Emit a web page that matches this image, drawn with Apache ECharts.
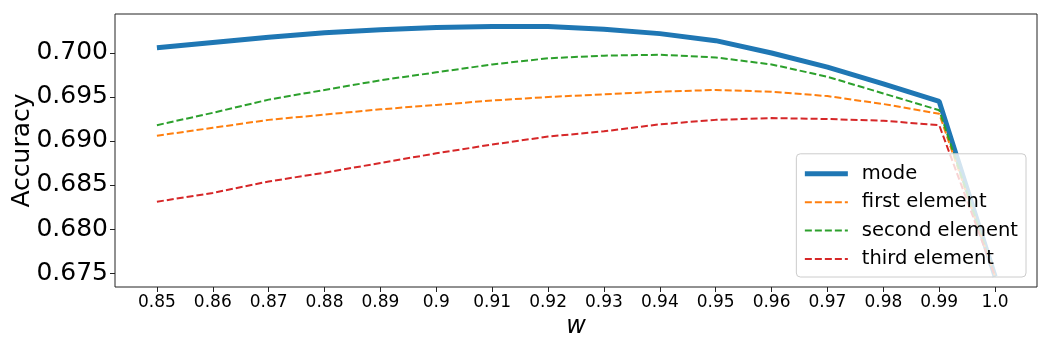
<!DOCTYPE html>
<html>
<head>
<meta charset="utf-8">
<script src="https://cdn.jsdelivr.net/npm/echarts@6/dist/echarts.min.js"></script>
<style>
  html, body { margin: 0; padding: 0; background: #fff; }
  #chart { width: 1050px; height: 350px; }
</style>
</head>
<body>
<div id="chart"></div>
<script>
// w values (tick labels as printed)
var xLabels = ['0.85', '0.86', '0.87', '0.88', '0.89', '0.9', '0.91', '0.92',
  '0.93', '0.94', '0.95', '0.96', '0.97', '0.98', '0.99', '1.0'];
var yTicks = [0.675, 0.680, 0.685, 0.690, 0.695, 0.700];

// accuracy per series
var mode = [0.7006, 0.7012, 0.7018, 0.7023, 0.70265, 0.7029, 0.7030, 0.7030,
  0.7027, 0.7022, 0.7014, 0.7000, 0.6984, 0.6965, 0.6945, 0.6746];
var firstEl = [0.6906, 0.6915, 0.6924, 0.6930, 0.6936, 0.6941, 0.6946, 0.6950,
  0.6953, 0.6956, 0.6958, 0.6956, 0.6951, 0.6942, 0.6931, 0.6746];
var secondEl = [0.6918, 0.6932, 0.6947, 0.6958, 0.6969, 0.6978, 0.6987, 0.6994,
  0.6997, 0.6998, 0.6995, 0.6987, 0.6973, 0.6954, 0.6935, 0.6746];
var thirdEl = [0.6831, 0.6841, 0.6854, 0.6864, 0.6875, 0.6886, 0.6896, 0.6905,
  0.6911, 0.6919, 0.6924, 0.6926, 0.6925, 0.6923, 0.6918, 0.6746];

var xVals = xLabels.map(function (s) { return parseFloat(s); });

function pairs(arr) {
  return arr.map(function (v, i) { return [xVals[i], v]; });
}

var myChart = echarts.init(document.getElementById('chart'));

myChart.setOption({
  animation: false,
  textStyle: { fontFamily: 'DejaVu Sans' },
  grid: {
    left: 115, right: 13, top: 14, bottom: 63,
    outerBoundsMode: 'none',
    containLabel: false,
    show: true, borderColor: '#222', borderWidth: 1, backgroundColor: '#fff'
  },
  xAxis: {
    type: 'value',
    min: 0.8425,
    max: 1.0075,
    name: 'w',
    nameLocation: 'middle',
    nameGap: 28,
    nameMoveOverlap: false,
    nameTextStyle: { fontSize: 24, fontStyle: 'italic', color: '#000' },
    axisLine: { show: false },
    splitLine: { show: false },
    axisTick: { show: true, customValues: xVals, length: 5, lineStyle: { color: '#222' } },
    axisLabel: {
      customValues: xVals,
      margin: 7,
      fontSize: 17,
      fontFamily: 'DejaVu Sans',
      color: '#000',
      formatter: function (v) {
        for (var i = 0; i < xVals.length; i++) {
          if (Math.abs(xVals[i] - v) < 1e-6) return xLabels[i];
        }
        return '';
      }
    }
  },
  yAxis: {
    type: 'value',
    min: 0.67341,
    max: 0.70443,
    name: 'Accuracy',
    nameLocation: 'middle',
    nameGap: 80,
    nameMoveOverlap: false,
    nameTextStyle: { fontSize: 25, color: '#000' },
    axisLine: { show: false },
    splitLine: { show: false },
    axisTick: { show: true, customValues: yTicks, length: 5, lineStyle: { color: '#222' } },
    axisLabel: {
      customValues: yTicks,
      margin: 7,
      fontSize: 25,
      color: '#000',
      formatter: function (v) { return v.toFixed(3); }
    }
  },
  legend: {
    orient: 'vertical',
    right: 24,
    bottom: 73,
    z: 10,
    padding: [10, 8, 8, 6],
    itemWidth: 43,
    itemHeight: 14,
    itemGap: 8.4,
    itemStyle: { opacity: 0 },
    backgroundColor: 'rgba(255,255,255,0.8)',
    borderColor: '#ccc',
    borderWidth: 1,
    borderRadius: 4,
    textStyle: { fontSize: 19.5, lineHeight: 19, color: '#000', padding: [0, 0, 0, 9] },
    data: [
      { name: 'mode', lineStyle: { width: 5 } },
      { name: 'first element' },
      { name: 'second element' },
      { name: 'third element' }
    ]
  },
  series: [
    {
      name: 'mode', type: 'line', symbol: 'none', data: pairs(mode),
      lineStyle: { color: '#1f77b4', width: 5 }, itemStyle: { color: '#1f77b4' }, z: 3
    },
    {
      name: 'first element', type: 'line', symbol: 'none', data: pairs(firstEl),
      lineStyle: { color: '#ff7f0e', width: 2, type: [7, 3] }, itemStyle: { color: '#ff7f0e' }
    },
    {
      name: 'second element', type: 'line', symbol: 'none', data: pairs(secondEl),
      lineStyle: { color: '#2ca02c', width: 2, type: [7, 3] }, itemStyle: { color: '#2ca02c' }
    },
    {
      name: 'third element', type: 'line', symbol: 'none', data: pairs(thirdEl),
      lineStyle: { color: '#d62728', width: 2, type: [7, 3] }, itemStyle: { color: '#d62728' }
    }
  ]
});
</script>
</body>
</html>
